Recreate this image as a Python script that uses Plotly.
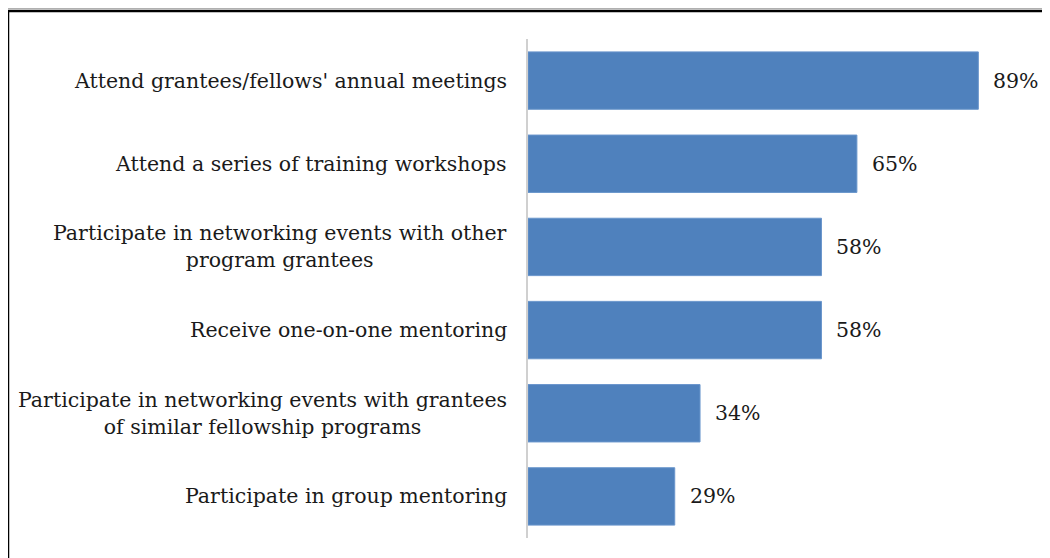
import plotly.graph_objects as go

categories = [
    "Attend grantees/fellows' annual meetings",
    "Attend a series of training workshops",
    "Participate in networking events with other<br>program grantees",
    "Receive one-on-one mentoring",
    "Participate in networking events with grantees<br>of similar fellowship programs",
    "Participate in group mentoring",
]
values = [89, 65, 58, 58, 34, 29]
value_labels = ["89%", "65%", "58%", "58%", "34%", "29%"]

# page shows the figure offset by the body margin, so targets are shifted
OFF = 7
W, H = 1050, 558
L, T = 527 - OFF, 38 - OFF
PH = 499
PW = 506
R = W - L - PW
B = H - T - PH
FONT = "DejaVu Serif"
FSIZE = 20.5


def px_x(p):
    return (p - OFF - L) / PW


def px_y(p):
    return 1 - (p - OFF - T) / PH


fig = go.Figure()
fig.add_trace(go.Bar(
    x=values, y=categories,
    orientation="h",
    marker=dict(color="#4F81BD", line=dict(color="#6A96CC", width=1)),
    width=0.69,
    hoverinfo="skip",
))

for cat, val, lab in zip(categories, values, value_labels):
    fig.add_annotation(
        x=val, y=cat, xref="x", yref="y",
        text=lab, showarrow=False,
        xanchor="left", xshift=13,
        font=dict(family=FONT, size=FSIZE, color="#1a1a1a"),
    )
    fig.add_annotation(
        x=0, y=cat, xref="paper", yref="y",
        text=cat, showarrow=False,
        xanchor="right", xshift=-19, align="center",
        font=dict(family=FONT, size=FSIZE, color="#1a1a1a"),
    )

# outer frame (cropped at right and bottom)
fig.add_shape(type="line", xref="paper", yref="paper",
              x0=px_x(7), x1=px_x(1100), y0=px_y(7.5), y1=px_y(7.5),
              line=dict(color="#b0b0b0", width=1))
fig.add_shape(type="line", xref="paper", yref="paper",
              x0=px_x(7), x1=px_x(1100), y0=px_y(10), y1=px_y(10),
              line=dict(color="black", width=2.5))
fig.add_shape(type="line", xref="paper", yref="paper",
              x0=px_x(7), x1=px_x(7), y0=px_y(10), y1=px_y(600),
              line=dict(color="black", width=2.5))

fig.update_layout(
    width=W, height=H,
    margin=dict(l=L, r=R, t=T, b=B),
    paper_bgcolor="white",
    plot_bgcolor="white",
    showlegend=False,
    bargap=0.31,
    xaxis=dict(range=[0, 100], visible=False, fixedrange=True),
    yaxis=dict(
        autorange="reversed",
        showticklabels=False,
        showline=True, linecolor="#d0d0d0", linewidth=2,
        showgrid=False, zeroline=False, ticks="",
        fixedrange=True,
    ),
)

fig.write_html("out.html")
